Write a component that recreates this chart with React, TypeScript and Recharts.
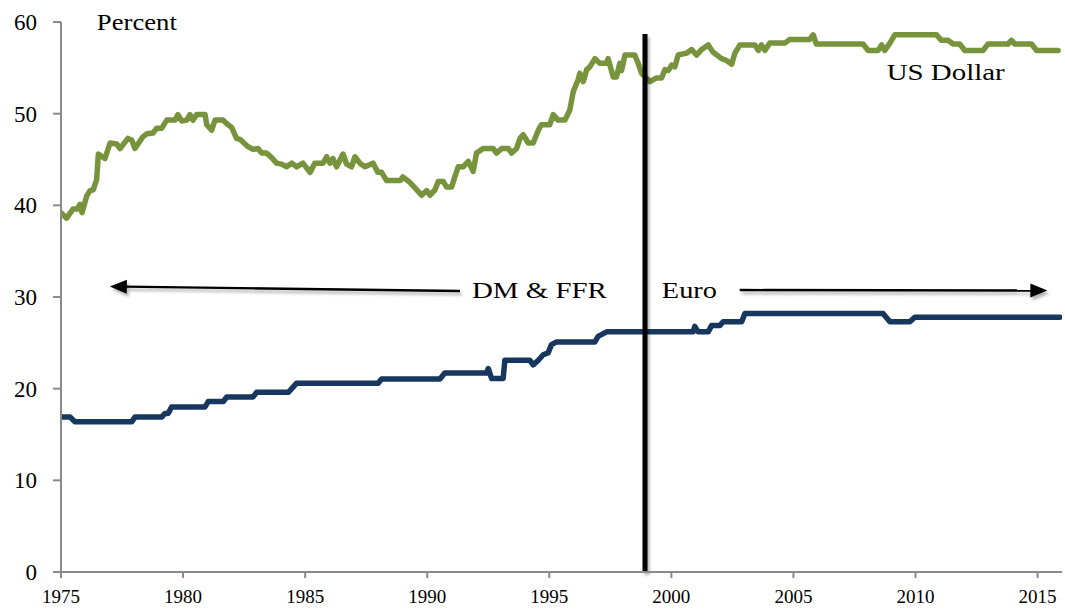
import React from 'react';
import { LineChart, Line, XAxis, YAxis, ReferenceLine, ReferenceDot } from 'recharts';

// US dollar share (percent)
const usdYears = [
  1975.0, 1975.23, 1975.49, 1975.66, 1975.78, 1975.86, 1976.05, 1976.19, 1976.32, 1976.46,
  1976.53, 1976.8, 1977.01, 1977.28, 1977.42, 1977.74, 1977.9, 1978.03, 1978.36, 1978.51,
  1978.77, 1978.92, 1979.12, 1979.33, 1979.67, 1979.79, 1979.94, 1980.15, 1980.28, 1980.41,
  1980.56, 1980.9, 1980.97, 1981.17, 1981.31, 1981.63, 1981.79, 1981.99, 1982.19, 1982.33,
  1982.66, 1982.86, 1983.07, 1983.22, 1983.42, 1983.63, 1983.83, 1984.04, 1984.24, 1984.45,
  1984.65, 1984.91, 1985.2, 1985.4, 1985.73, 1985.88, 1986.02, 1986.14, 1986.29, 1986.55,
  1986.7, 1986.9, 1987.04, 1987.24, 1987.45, 1987.78, 1987.98, 1988.13, 1988.34, 1988.9,
  1989.0, 1989.29, 1989.5, 1989.77, 1989.98, 1990.11, 1990.32, 1990.45, 1990.66, 1990.79,
  1991.0, 1991.13, 1991.27, 1991.47, 1991.68, 1991.88, 1992.02, 1992.29, 1992.7, 1992.84,
  1993.05, 1993.32, 1993.46, 1993.66, 1993.8, 1993.93, 1994.14, 1994.34, 1994.55, 1994.68,
  1995.02, 1995.16, 1995.36, 1995.64, 1995.84, 1995.98, 1996.18, 1996.25, 1996.39, 1996.53,
  1996.66, 1996.87, 1997.07, 1997.35, 1997.41, 1997.62, 1997.75, 1997.89, 1997.96, 1998.1,
  1998.5, 1998.64, 1998.78, 1999.12, 1999.39, 1999.6, 1999.73, 1999.87, 2000.01, 2000.14,
  2000.28, 2000.62, 2000.83, 2001.03, 2001.24, 2001.51, 2001.71, 2002.06, 2002.26, 2002.47,
  2002.6, 2002.81, 2003.42, 2003.56, 2003.69, 2003.83, 2004.03, 2004.65, 2004.85, 2005.67,
  2005.81, 2005.94, 2007.85, 2008.06, 2008.47, 2008.61, 2008.74, 2008.95, 2009.15, 2010.86,
  2011.06, 2011.33, 2011.54, 2011.81, 2012.02, 2012.77, 2012.97, 2013.79, 2013.93, 2014.07,
  2014.75, 2014.96, 2015.84,
];
const usdShare = [
  39.2, 38.6, 39.6, 39.6, 40.1, 39.2, 41.0, 41.6, 41.7, 42.8,
  45.6, 45.1, 46.8, 46.7, 46.2, 47.3, 47.1, 46.2, 47.5, 47.8,
  47.9, 48.4, 48.4, 49.3, 49.3, 49.9, 49.2, 49.3, 49.9, 49.3,
  49.9, 49.9, 48.8, 48.2, 49.3, 49.3, 48.9, 48.5, 47.3, 47.2,
  46.4, 46.1, 46.2, 45.7, 45.7, 45.2, 44.6, 44.5, 44.2, 44.6,
  44.2, 44.6, 43.6, 44.6, 44.6, 45.3, 44.6, 45.1, 44.2, 45.6,
  44.5, 44.2, 45.3, 44.6, 44.2, 44.6, 43.6, 43.6, 42.7, 42.7,
  43.1, 42.5, 41.9, 41.1, 41.6, 41.1, 41.7, 42.6, 42.6, 42.0,
  42.0, 43.1, 44.2, 44.2, 44.8, 43.7, 45.7, 46.2, 46.2, 45.7,
  46.2, 46.2, 45.7, 46.2, 47.3, 47.7, 46.8, 46.8, 48.2, 48.8,
  48.8, 49.9, 49.3, 49.3, 50.4, 52.4, 53.7, 54.4, 53.5, 54.8,
  55.1, 56.0, 55.5, 55.5, 56.0, 54.0, 54.0, 55.5, 54.7, 56.4,
  56.4, 55.5, 54.4, 53.5, 53.9, 53.9, 54.8, 54.7, 55.3, 55.1,
  56.4, 56.6, 57.0, 56.4, 57.0, 57.5, 56.7, 56.0, 55.8, 55.4,
  56.6, 57.5, 57.5, 56.9, 57.5, 56.9, 57.7, 57.7, 58.1, 58.1,
  58.6, 57.6, 57.6, 56.9, 56.9, 57.5, 56.9, 57.7, 58.6, 58.6,
  58.0, 58.0, 57.6, 57.6, 56.9, 56.9, 57.6, 57.6, 58.0, 57.6,
  57.6, 56.9, 56.9,
];

// DM & FFR, then Euro share (percent)
const dmEuroYears = [
  1975.0, 1975.37, 1975.57, 1977.9, 1978.03, 1979.12, 1979.26, 1979.39, 1979.53, 1980.9,
  1981.03, 1981.65, 1981.79, 1982.87, 1983.01, 1984.31, 1984.45, 1984.65, 1987.99, 1988.13,
  1990.52, 1990.72, 1992.43, 1992.5, 1992.64, 1993.11, 1993.18, 1994.2, 1994.34, 1994.55,
  1994.75, 1994.95, 1995.09, 1995.3, 1996.87, 1997.0, 1997.21, 1997.35, 2000.89, 2000.96,
  2001.1, 2001.51, 2001.65, 2001.99, 2002.12, 2002.88, 2003.01, 2008.67, 2008.95, 2009.77,
  2009.97, 2015.91,
];
const dmEuroShare = [
  16.9, 16.9, 16.4, 16.4, 16.9, 16.9, 17.3, 17.3, 18.0, 18.0,
  18.6, 18.6, 19.1, 19.1, 19.6, 19.6, 20.0, 20.6, 20.6, 21.05,
  21.05, 21.7, 21.7, 22.2, 21.1, 21.1, 23.1, 23.1, 22.6, 23.1,
  23.7, 23.9, 24.8, 25.1, 25.1, 25.7, 26.0, 26.2, 26.2, 26.8,
  26.2, 26.2, 26.9, 26.9, 27.3, 27.3, 28.2, 28.2, 27.3, 27.3,
  27.8, 27.8,
];

const xTicks = [1975, 1980, 1985, 1990, 1995, 2000, 2005, 2010, 2015];
const yTicks = [0, 10, 20, 30, 40, 50, 60];

const euroLaunch = 1998.92;
const euroLineTop = 58.7;

const usdData = usdYears.map((year, i) => ({ year, value: usdShare[i] }));
const dmEuroData = dmEuroYears.map((year, i) => ({ year, value: dmEuroShare[i] }));

const FONT = '"Liberation Serif", "Times New Roman", serif';

const ArrowShape = (props: any) => {
  const { x1, y1, x2, y2 } = props;
  const dx = x2 - x1;
  const dy = y2 - y1;
  const len = Math.sqrt(dx * dx + dy * dy) || 1;
  const ux = dx / len;
  const uy = dy / len;
  const L = 17;
  const W = 7;
  const bx = x2 - ux * L;
  const by = y2 - uy * L;
  const nx = -uy;
  const ny = ux;
  const pts = `${x2},${y2} ${bx + nx * W},${by + ny * W} ${bx - nx * W},${by - ny * W}`;
  return (
    <g filter="url(#softShadow)">
      <line x1={x1} y1={y1} x2={bx + ux * 2} y2={by + uy * 2} stroke="#000" strokeWidth={2.4} />
      <polygon points={pts} fill="#000" />
    </g>
  );
};

const VLineShape = (props: any) => {
  const { x1, y1, x2, y2 } = props;
  return (
    <g filter="url(#softShadow)">
      <line x1={x1} y1={y1} x2={x2} y2={y2} stroke="#000" strokeWidth={5} />
    </g>
  );
};

const makeText = (text: string, size: number, length: number) => (props: any) => (
  <text
    x={props.cx}
    y={props.cy}
    fontFamily={FONT}
    fontSize={size}
    fill="#000"
    textLength={length}
    lengthAdjust="spacingAndGlyphs"
  >
    {text}
  </text>
);

export default function App() {
  return (
    <div style={{ position: 'absolute', left: 0, top: 0, background: '#fff' }}>
      <LineChart
        width={1065}
        height={610}
        margin={{ top: 22, right: 3, bottom: 0, left: 0 }}
      >
        <defs>
          <filter id="softShadow" filterUnits="userSpaceOnUse" x="0" y="0" width="1065" height="610">
            <feDropShadow dx="2" dy="3" stdDeviation="1.6" floodColor="#000" floodOpacity="0.3" />
          </filter>
        </defs>
        <XAxis
          dataKey="year"
          type="number"
          domain={[1975, 2016]}
          ticks={xTicks}
          allowDataOverflow
          height={38}
          stroke="#8a8a8a"
          strokeWidth={2}
          tickSize={6}
          tickMargin={12}
          tick={{ fill: '#000', fontSize: 19, fontFamily: FONT }}
        />
        <YAxis
          type="number"
          domain={[0, 60]}
          ticks={yTicks}
          width={61}
          stroke="#8a8a8a"
          strokeWidth={2}
          tickSize={8}
          tickMargin={16}
          tick={{ fill: '#000', fontSize: 23, fontFamily: FONT }}
        />
        <Line
          data={dmEuroData}
          dataKey="value"
          type="linear"
          stroke="#17375E"
          strokeWidth={5.5}
          strokeLinejoin="round"
          strokeLinecap="round"
          dot={false}
          activeDot={false}
          isAnimationActive={false}
        />
        <Line
          data={usdData}
          dataKey="value"
          type="linear"
          stroke="#77933C"
          strokeWidth={5.5}
          strokeLinejoin="round"
          strokeLinecap="round"
          dot={false}
          activeDot={false}
          isAnimationActive={false}
        />
        <ReferenceLine
          segment={[{ x: euroLaunch, y: 0 }, { x: euroLaunch, y: euroLineTop }]}
          shape={VLineShape}
        />
        <ReferenceLine
          segment={[{ x: 1991.34, y: 30.65 }, { x: 1977.0, y: 31.15 }]}
          shape={ArrowShape}
        />
        <ReferenceLine
          segment={[{ x: 2002.8, y: 30.76 }, { x: 2015.4, y: 30.7 }]}
          shape={ArrowShape}
        />
        <ReferenceDot x={1976.47} y={59.13} r={0} shape={makeText('Percent', 23, 80)} />
        <ReferenceDot x={2008.82} y={53.67} r={0} shape={makeText('US Dollar', 24, 118)} />
        <ReferenceDot x={1991.83} y={29.89} r={0} shape={makeText('DM & FFR', 24, 135)} />
        <ReferenceDot x={1999.61} y={29.89} r={0} shape={makeText('Euro', 24, 55)} />
      </LineChart>
    </div>
  );
}
